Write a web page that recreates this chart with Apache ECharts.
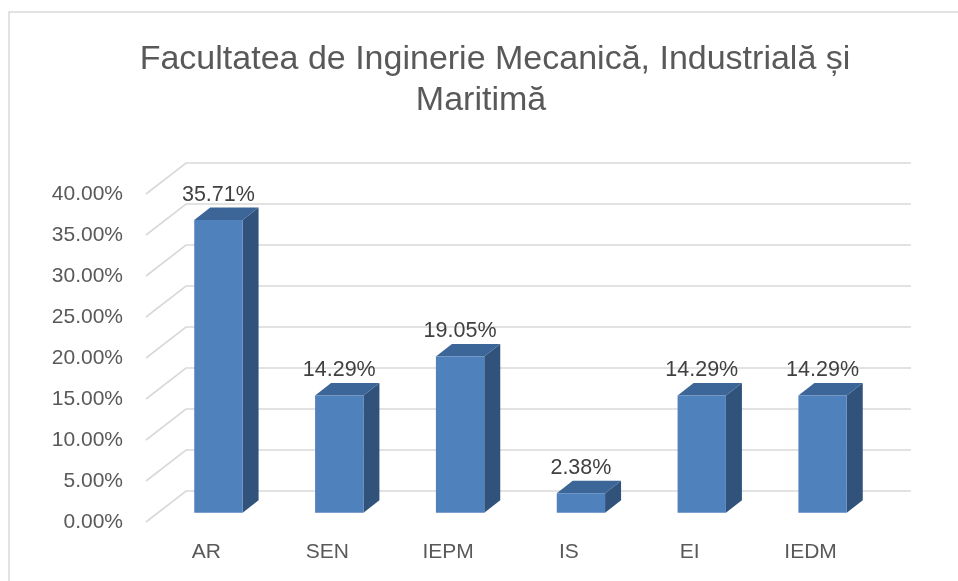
<!DOCTYPE html>
<html>
<head>
<meta charset="utf-8">
<script src="https://cdn.jsdelivr.net/npm/echarts@6/dist/echarts.min.js"></script>
<style>
html,body{margin:0;padding:0;background:#fff;}
#c{width:958px;height:581px;}
</style>
</head>
<body>
<div id="c"></div>
<script>
const titleLine1 = 'Facultatea de Inginerie Mecanică, Industrială și';
const titleLine2 = 'Maritimă';
const categories = ['AR', 'SEN', 'IEPM', 'IS', 'EI', 'IEDM'];
const values = [35.71, 14.29, 19.05, 2.38, 14.29, 14.29];
const yTicks = [0, 5, 10, 15, 20, 25, 30, 35, 40];

// perspective depth vector (pixels) and bar depth fractions
const DX = 40, DY = -31;
const F1 = 0.3, F2 = 0.7;

const chart = echarts.init(document.getElementById('c'), null, {renderer: 'canvas'});
const font = '"Liberation Sans", Arial, sans-serif';

chart.setOption({
  animation: false,
  backgroundColor: '#ffffff',
  title: [
    {text: titleLine1, left: 490, top: 38, textAlign: 'center',
     textStyle: {fontFamily: font, fontSize: 34, fontWeight: 'normal', color: '#595959'}},
    {text: titleLine2, left: 476, top: 79, textAlign: 'center',
     textStyle: {fontFamily: font, fontSize: 34, fontWeight: 'normal', color: '#595959'}}
  ],
  graphic: [{
    type: 'rect', silent: true, z: -1,
    shape: {x: 9, y: 12, width: 1000, height: 700},
    style: {fill: 'none', stroke: '#d9d9d9', lineWidth: 1.5}
  }],
  grid: {left: 146, right: 87, top: 194, bottom: 59, containLabel: false},
  xAxis: {
    type: 'category', data: categories,
    axisLine: {show: false}, axisTick: {show: false}, splitLine: {show: false},
    axisLabel: {margin: 20, fontFamily: font, fontSize: 21, color: '#595959'}
  },
  yAxis: {
    type: 'value', min: 0, max: 40, interval: 5,
    axisLine: {show: false}, axisTick: {show: false}, splitLine: {show: false},
    axisLabel: {margin: 23, fontFamily: font, fontSize: 21, color: '#595959',
      formatter: v => v.toFixed(2) + '%'}
  },
  series: [
    {
      type: 'custom', z: 1, silent: true,
      data: yTicks.map(v => [0, v]),
      renderItem: function (params, api) {
        const cs = params.coordSys;
        const y = api.coord([0, api.value(1)])[1];
        const x0 = cs.x;
        return {
          type: 'polyline',
          shape: {points: [[x0, y], [x0 + DX, y + DY], [x0 + cs.width + DX, y + DY]]},
          style: {stroke: '#d9d9d9', lineWidth: 1.6, fill: 'none'}
        };
      }
    },
    {
      type: 'custom', z: 2, silent: true,
      data: values.map((v, i) => [i, v]),
      renderItem: function (params, api) {
        const i = api.value(0), v = api.value(1);
        const top = api.coord([i, v]);
        const bot = api.coord([i, 0]);
        const w = api.size([1, 0])[0] * 0.4;
        const ox = DX * F1, oy = DY * F1;
        const dx = DX * (F2 - F1), dy = DY * (F2 - F1);
        const xl = top[0] - w / 2 + ox, xr = top[0] + w / 2 + ox;
        const yt = top[1] + oy, yb = bot[1] + oy;
        return {
          type: 'group',
          children: [
            {type: 'polygon', shape: {points: [[xr, yt], [xr + dx, yt + dy], [xr + dx, yb + dy], [xr, yb]]},
             style: {fill: '#30527b'}},
            {type: 'polygon', shape: {points: [[xl, yt], [xl + dx, yt + dy], [xr + dx, yt + dy], [xr, yt]]},
             style: {fill: '#3c6598'}},
            {type: 'rect', shape: {x: xl, y: yt, width: w, height: yb - yt},
             style: {fill: '#4f81bd'}},
            {type: 'text', style: {
              x: (xl + xr) / 2, y: yt - 25, text: v.toFixed(2) + '%',
              align: 'center', verticalAlign: 'middle',
              fontFamily: font, fontSize: 21.5, fill: '#404040'}}
          ]
        };
      }
    }
  ]
});
</script>
</body>
</html>
